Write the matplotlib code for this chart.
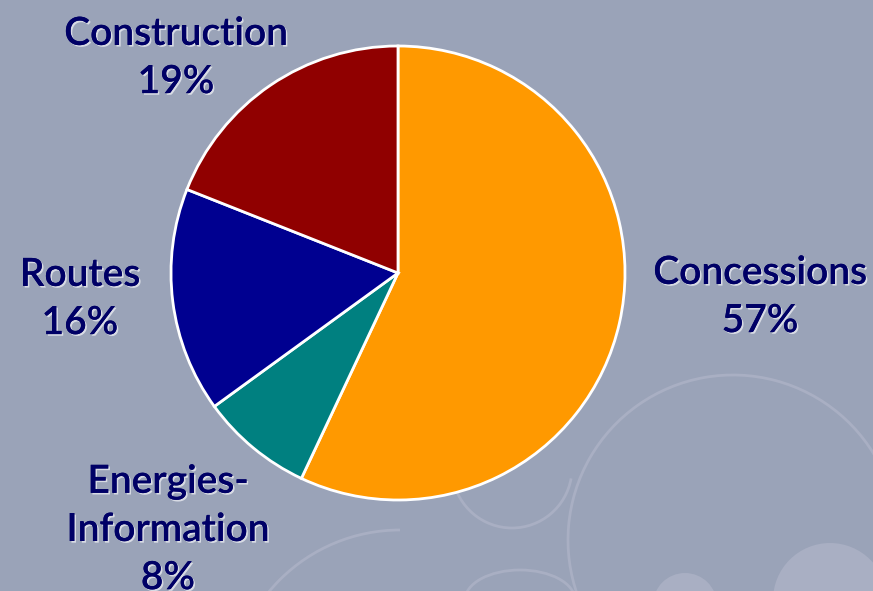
import matplotlib.pyplot as plt
import matplotlib.patheffects as pe
from matplotlib.patches import Circle, Arc

# data
labels = ['Concessions', 'Energies-\nInformation', 'Routes', 'Construction']
shares = [57, 8, 16, 19]
colors = ['#ff9900', '#008080', '#000090', '#900000']

# label positions in pixel coords (x, y from top)
label_pos = [(760, 297), (168, 530), (80, 299), (176, 58)]

W, H = 873, 591
bg = '#9aa3b8'
txt_color = '#000066'

fig = plt.figure(figsize=(W / 100, H / 100), dpi=100)
fig.patch.set_facecolor(bg)
ax = fig.add_axes([0, 0, 1, 1])
ax.set_facecolor(bg)

# faint background decorations
deco = '#a9afc3'
ax.add_patch(Arc((733, H - 540), 330, 330, theta1=0, theta2=200,
                 color=deco, lw=2, zorder=0))
ax.add_patch(Arc((512, H - 468), 120, 120, theta1=190, theta2=350,
                 color=deco, lw=2, zorder=0))
ax.add_patch(Arc((400, H - 700), 340, 340, theta1=90, theta2=180,
                 color=deco, lw=2, zorder=0))
ax.add_patch(Circle((685, H - 605), 32, color=deco, zorder=0, lw=0))
ax.add_patch(Circle((830, H - 600), 57, color=deco, zorder=0, lw=0))
ax.add_patch(Arc((520, H - 600), 110, 60, theta1=0, theta2=180,
                 color=deco, lw=2, zorder=0))

ax.pie(shares, colors=colors, startangle=90, counterclock=False,
       center=(398, H - 273), radius=227,
       wedgeprops=dict(edgecolor='white', linewidth=2), frame=True)
ax.set_xlim(0, W)
ax.set_ylim(0, H)
ax.set_aspect('equal')
ax.axis('off')

shadow = [pe.withSimplePatchShadow(offset=(1.2, -1.2), shadow_rgbFace='#dfe2ea', alpha=0.9),
          pe.Normal()]
for lab, val, (x, y) in zip(labels, shares, label_pos):
    ax.text(x, H - y, f'{lab}\n{val}%', ha='center', va='center',
            fontsize=28, fontweight='semibold', color=txt_color,
            family=['Lato', 'DejaVu Sans'],
            linespacing=1.42, path_effects=shadow)

plt.savefig('out.png', dpi=100, facecolor=bg)
